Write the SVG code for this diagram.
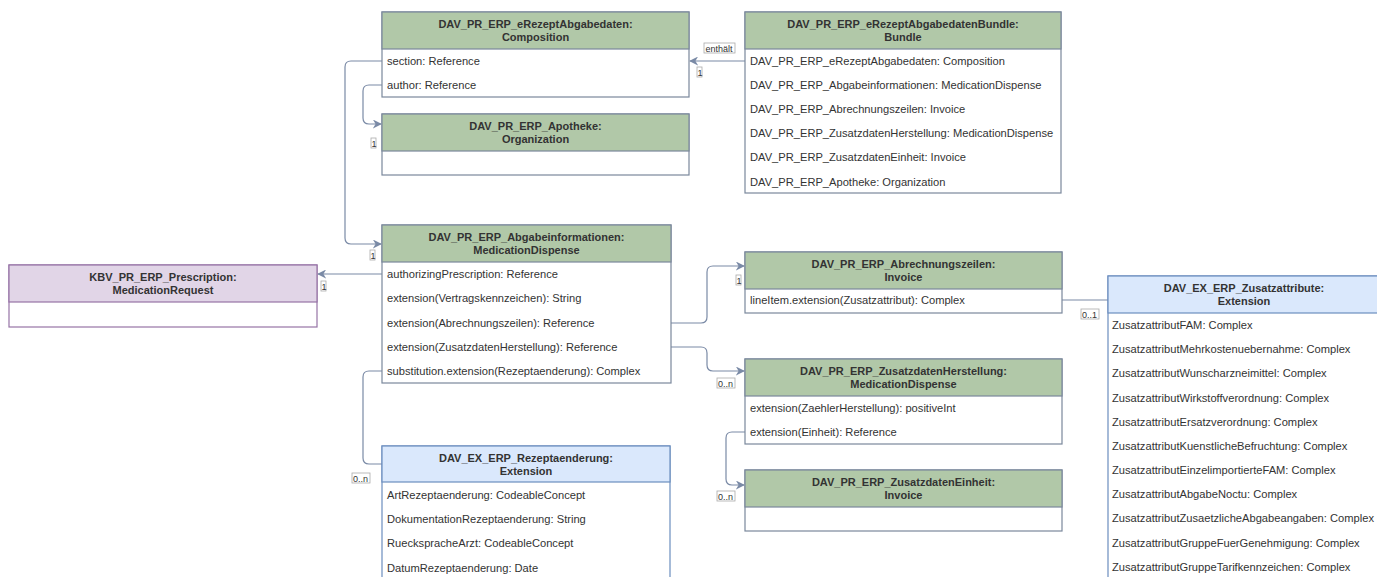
<svg xmlns="http://www.w3.org/2000/svg" width="1377" height="577" viewBox="0 0 1377 577">
<style>
text{font-family:"Liberation Sans",Arial,sans-serif;fill:#333;}
.t{font-size:11px;font-weight:bold;text-anchor:middle;}
.r{font-size:11.15px;}
.g{fill:#b1c8a8;stroke:#7a889c;stroke-width:1.2;}
.gb{fill:#fff;stroke:#7a889c;stroke-width:1.2;}
.p{fill:#e1d5e7;stroke:#9673a6;stroke-width:1.2;}
.pb{fill:#fff;stroke:#9673a6;stroke-width:1.2;}
.b{fill:#dae8fc;stroke:#6c8ebf;stroke-width:1.2;}
.bb{fill:#fff;stroke:#6c8ebf;stroke-width:1.2;}
.c{fill:none;stroke:#7a8aa6;stroke-width:1.2;}
.lb{fill:#fff;stroke:#aaa;stroke-width:0.8;}
.l{font-size:9px;}
</style>
<defs>
<marker id="arr" viewBox="0 0 10 10" refX="9" refY="5" markerWidth="9" markerHeight="9" markerUnits="userSpaceOnUse" orient="auto">
<path d="M0,0 L10,5 L0,10 L3,5 Z" fill="#7a8aa6"/>
</marker>
</defs>
<rect width="1377" height="577" fill="#fff"/>

<g id="connectors">
<path class="c" d="M382,61 H351 Q345,61 345,67 V238 Q345,244 351,244 H381" marker-end="url(#arr)"/>
<path class="c" d="M382,85 H369 Q363,85 363,91 V118 Q363,124 369,124 H381" marker-end="url(#arr)"/>
<path class="c" d="M745,61 H690" marker-end="url(#arr)"/>
<path class="c" d="M382,274 H318" marker-end="url(#arr)"/>
<path class="c" d="M671,323 H701 Q707,323 707,317 V272 Q707,266 713,266 H744" marker-end="url(#arr)"/>
<path class="c" d="M671,347 H701 Q707,347 707,353 V365 Q707,371 713,371 H744" marker-end="url(#arr)"/>
<path class="c" d="M745,432 H732 Q726,432 726,438 V479 Q726,485 732,485 H744" marker-end="url(#arr)"/>
<path class="c" d="M382,371 H369 Q363,371 363,377 V458 Q363,464 369,464 H382"/>
<path class="c" d="M1062,300 H1108"/>
<rect class="lb" x="704" y="43" width="31" height="10"/><text class="l" x="705.5" y="51.5">enthält</text>
<rect class="lb" x="697" y="67" width="5" height="10"/><text class="l" x="697.5" y="75.5">1</text>
<rect class="lb" x="370" y="250" width="5" height="10"/><text class="l" x="370.5" y="258.5">1</text>
<rect class="lb" x="371" y="138" width="5" height="10"/><text class="l" x="371.5" y="146.5">1</text>
<rect class="lb" x="321" y="281" width="5" height="10"/><text class="l" x="321.5" y="289.5">1</text>
<rect class="lb" x="736" y="275" width="5" height="10"/><text class="l" x="736.5" y="283.5">1</text>
<rect class="lb" x="717" y="378" width="18" height="10"/><text class="l" x="718" y="386.5">0..n</text>
<rect class="lb" x="717" y="491" width="18" height="10"/><text class="l" x="718" y="499.5">0..n</text>
<rect class="lb" x="352" y="473" width="18" height="10"/><text class="l" x="353" y="481.5">0..n</text>
<rect class="lb" x="1081" y="309" width="18" height="10"/><text class="l" x="1082" y="317.5">0..1</text>
</g>

<g id="composition">
<rect class="gb" x="382" y="12" width="307" height="85"/>
<rect class="g" x="382" y="12" width="307" height="37"/>
<text class="t" x="535.5" y="28">DAV_PR_ERP_eRezeptAbgabedaten:</text>
<text class="t" x="535.5" y="41">Composition</text>
<text class="r" x="387" y="65">section: Reference</text>
<text class="r" x="387" y="89">author: Reference</text>
</g>

<g id="apotheke">
<rect class="gb" x="382" y="114" width="307" height="61"/>
<rect class="g" x="382" y="114" width="307" height="37"/>
<text class="t" x="535.5" y="130">DAV_PR_ERP_Apotheke:</text>
<text class="t" x="535.5" y="143">Organization</text>
</g>

<g id="bundle">
<rect class="gb" x="745" y="12" width="316" height="181"/>
<rect class="g" x="745" y="12" width="316" height="37"/>
<text class="t" x="903" y="28">DAV_PR_ERP_eRezeptAbgabedatenBundle:</text>
<text class="t" x="903" y="41">Bundle</text>
<text class="r" x="750" y="65">DAV_PR_ERP_eRezeptAbgabedaten: Composition</text>
<text class="r" x="750" y="89">DAV_PR_ERP_Abgabeinformationen: MedicationDispense</text>
<text class="r" x="750" y="113">DAV_PR_ERP_Abrechnungszeilen: Invoice</text>
<text class="r" x="750" y="137">DAV_PR_ERP_ZusatzdatenHerstellung: MedicationDispense</text>
<text class="r" x="750" y="161">DAV_PR_ERP_ZusatzdatenEinheit: Invoice</text>
<text class="r" x="750" y="186">DAV_PR_ERP_Apotheke: Organization</text>
</g>

<g id="prescription">
<rect class="pb" x="9" y="265" width="308" height="62"/>
<rect class="p" x="9" y="265" width="308" height="37"/>
<text class="t" x="163" y="281">KBV_PR_ERP_Prescription:</text>
<text class="t" x="163" y="294">MedicationRequest</text>
</g>

<g id="abgabeinformationen">
<rect class="gb" x="382" y="225" width="289" height="158"/>
<rect class="g" x="382" y="225" width="289" height="37"/>
<text class="t" x="526.5" y="241">DAV_PR_ERP_Abgabeinformationen:</text>
<text class="t" x="526.5" y="254">MedicationDispense</text>
<text class="r" x="387" y="278">authorizingPrescription: Reference</text>
<text class="r" x="387" y="302">extension(Vertragskennzeichen): String</text>
<text class="r" x="387" y="327">extension(Abrechnungszeilen): Reference</text>
<text class="r" x="387" y="351">extension(ZusatzdatenHerstellung): Reference</text>
<text class="r" x="387" y="375">substitution.extension(Rezeptaenderung): Complex</text>
</g>

<g id="abrechnungszeilen">
<rect class="gb" x="745" y="252" width="317" height="61"/>
<rect class="g" x="745" y="252" width="317" height="37"/>
<text class="t" x="903.5" y="268">DAV_PR_ERP_Abrechnungszeilen:</text>
<text class="t" x="903.5" y="281">Invoice</text>
<text class="r" x="750" y="304">lineItem.extension(Zusatzattribut): Complex</text>
</g>

<g id="zusatzdatenherstellung">
<rect class="gb" x="745" y="359" width="317" height="85"/>
<rect class="g" x="745" y="359" width="317" height="37"/>
<text class="t" x="903.5" y="375">DAV_PR_ERP_ZusatzdatenHerstellung:</text>
<text class="t" x="903.5" y="388">MedicationDispense</text>
<text class="r" x="750" y="412">extension(ZaehlerHerstellung): positiveInt</text>
<text class="r" x="750" y="436">extension(Einheit): Reference</text>
</g>

<g id="zusatzdateneinheit">
<rect class="gb" x="745" y="470" width="317" height="61"/>
<rect class="g" x="745" y="470" width="317" height="37"/>
<text class="t" x="903.5" y="486">DAV_PR_ERP_ZusatzdatenEinheit:</text>
<text class="t" x="903.5" y="499">Invoice</text>
</g>

<g id="rezeptaenderung">
<rect class="bb" x="382" y="446" width="288" height="136"/>
<rect class="b" x="382" y="446" width="288" height="36"/>
<text class="t" x="526" y="462">DAV_EX_ERP_Rezeptaenderung:</text>
<text class="t" x="526" y="475">Extension</text>
<text class="r" x="387" y="499">ArtRezeptaenderung: CodeableConcept</text>
<text class="r" x="387" y="523">DokumentationRezeptaenderung: String</text>
<text class="r" x="387" y="547">RueckspracheArzt: CodeableConcept</text>
<text class="r" x="387" y="572">DatumRezeptaenderung: Date</text>
</g>

<g id="zusatzattribute">
<rect class="bb" x="1108" y="276" width="272" height="310"/>
<rect class="b" x="1108" y="276" width="272" height="37"/>
<text class="t" x="1244" y="292">DAV_EX_ERP_Zusatzattribute:</text>
<text class="t" x="1244" y="305">Extension</text>
<text class="r" x="1112" y="329">ZusatzattributFAM: Complex</text>
<text class="r" x="1112" y="353">ZusatzattributMehrkostenuebernahme: Complex</text>
<text class="r" x="1112" y="377">ZusatzattributWunscharzneimittel: Complex</text>
<text class="r" x="1112" y="402">ZusatzattributWirkstoffverordnung: Complex</text>
<text class="r" x="1112" y="426">ZusatzattributErsatzverordnung: Complex</text>
<text class="r" x="1112" y="450">ZusatzattributKuenstlicheBefruchtung: Complex</text>
<text class="r" x="1112" y="474">ZusatzattributEinzelimportierteFAM: Complex</text>
<text class="r" x="1112" y="498">ZusatzattributAbgabeNoctu: Complex</text>
<text class="r" x="1112" y="522">ZusatzattributZusaetzlicheAbgabeangaben: Complex</text>
<text class="r" x="1112" y="547">ZusatzattributGruppeFuerGenehmigung: Complex</text>
<text class="r" x="1112" y="571">ZusatzattributGruppeTarifkennzeichen: Complex</text>
</g>
</svg>
